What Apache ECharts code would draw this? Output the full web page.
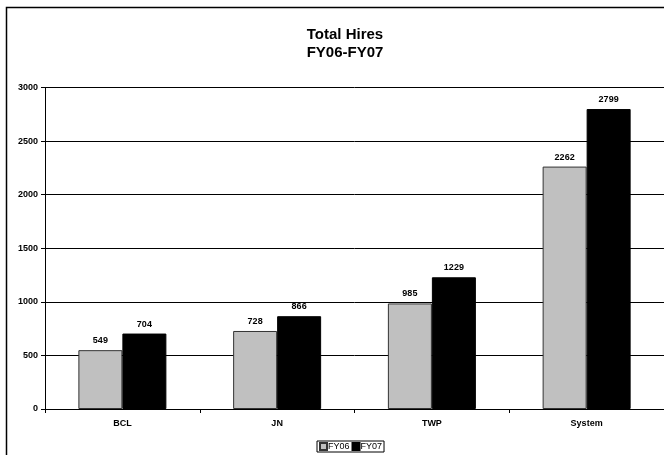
<!DOCTYPE html>
<html>
<head>
<meta charset="utf-8">
<script src="https://cdn.jsdelivr.net/npm/echarts@6/dist/echarts.min.js"></script>
<style>
  html, body { margin: 0; padding: 0; background: #fff; }
  #chart { width: 664px; height: 455px; }
</style>
</head>
<body>
<div id="chart"></div>
<script>
// Hires by location, two fiscal years
const categories = ['BCL', 'JN', 'TWP', 'System'];
const fy06 = [549, 728, 985, 2262];
const fy07 = [704, 866, 1229, 2799];
const seriesNames = ['FY06', 'FY07'];

const chart = echarts.init(document.getElementById('chart'), null, { renderer: 'canvas' });
const font = 'Arial, "Liberation Sans", sans-serif';

const labelStyle = {
  show: true,
  position: 'top',
  distance: 5,
  color: '#000',
  fontFamily: font,
  fontWeight: 'bold',
  fontSize: 9
};

chart.setOption({
  animation: false,
  backgroundColor: '#fff',
  graphic: [{
    type: 'rect',
    shape: { x: 6.5, y: 7.5, width: 720, height: 520 },
    style: { fill: 'none', stroke: '#000', lineWidth: 1.5 },
    silent: true,
    z: -1
  }],
  title: {
    text: 'Total Hires\nFY06-FY07',
    left: 340,
    textAlign: 'center',
    top: 21,
    textStyle: {
      fontFamily: font,
      fontWeight: 'bold',
      fontSize: 15,
      lineHeight: 18,
      color: '#000'
    }
  },
  legend: {
    data: seriesNames,
    left: 317,
    top: 441,
    itemWidth: 7,
    itemHeight: 7,
    itemGap: 2,
    padding: [1, 2, 1, 2],
    borderColor: '#000',
    borderWidth: 1,
    icon: 'rect',
    textStyle: { fontFamily: font, fontSize: 9, color: '#000', padding: [0, 0, 0, -4] }
  },
  grid: {
    left: 45,
    top: 87.5,
    width: 620,
    bottom: 46,
    containLabel: false
  },
  xAxis: {
    type: 'category',
    data: categories,
    axisLine: { lineStyle: { color: '#000', width: 1 } },
    axisTick: { show: true, length: 4, lineStyle: { color: '#000' } },
    axisLabel: {
      color: '#000',
      fontFamily: font,
      fontWeight: 'bold',
      fontSize: 9,
      margin: 10
    }
  },
  yAxis: {
    type: 'value',
    min: 0,
    max: 3000,
    interval: 500,
    axisLine: { show: true, lineStyle: { color: '#000', width: 1 } },
    axisTick: { show: true, length: 4, lineStyle: { color: '#000' } },
    splitLine: { show: true, lineStyle: { color: '#000', width: 1 } },
    axisLabel: {
      color: '#000',
      fontFamily: font,
      fontWeight: 'bold',
      fontSize: 9,
      margin: 7,
      formatter: v => String(v)
    }
  },
  series: [
    {
      name: seriesNames[0],
      type: 'bar',
      data: fy06,
      barWidth: 44,
      barGap: '0%',
      itemStyle: { color: '#c0c0c0', borderColor: '#333', borderWidth: 1 },
      label: labelStyle
    },
    {
      name: seriesNames[1],
      type: 'bar',
      data: fy07,
      barWidth: 44,
      itemStyle: { color: '#000', borderColor: '#000', borderWidth: 1 },
      label: labelStyle
    }
  ]
});
</script>
</body>
</html>
